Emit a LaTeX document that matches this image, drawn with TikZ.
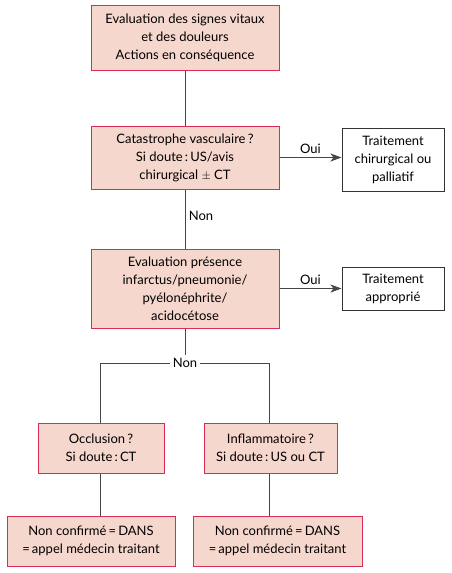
\documentclass[tikz,border=0pt]{standalone}
\usepackage{fontspec}
\setmainfont{Lato}
\usepackage{tikz}
\usetikzlibrary{arrows.meta}
\usetikzlibrary{calc}

\definecolor{boxfill}{RGB}{246,215,205}
\definecolor{boxline}{RGB}{218,45,85}
\definecolor{wire}{RGB}{70,70,70}

\tikzset{
  pinkbox/.style={draw=boxline,line width=1pt,fill=boxfill,align=center,inner sep=0pt},
  whitebox/.style={draw=black!80,line width=1pt,fill=white,align=center,inner sep=0pt},
  wire/.style={draw=wire,line width=1pt},
  arr/.style={wire,-{Stealth[length=11pt,width=8pt,inset=3pt]}}
}

\begin{document}
\begin{tikzpicture}[x=1pt,y=-1pt,font=\fontsize{13}{18}\selectfont]
\useasboundingbox (0,0) rectangle (451,573);
\draw (185,37.5) node (eval) [pinkbox,minimum width=188,minimum height=65] {Evaluation des signes vitaux\\et des douleurs\\Actions en conséquence};
\draw (185,157.5) node (cata) [pinkbox,minimum width=188,minimum height=63] {Catastrophe vasculaire\,?\\Si doute\,:\,US/avis\\chirurgical $\pm$ CT};
\draw (393,159.5) node (chir) [whitebox,minimum width=102,minimum height=63] {Traitement\\chirurgical ou\\palliatif};
\draw (185,288.5) node (infa) [pinkbox,minimum width=188,minimum height=79] {Evaluation présence\\infarctus/pneumonie/\\pyélonéphrite/\\acidocétose};
\draw (393,288.5) node (appr) [whitebox,minimum width=102,minimum height=43] {Traitement\\approprié};
\draw (185,363) node (non) [fill=white,inner sep=3pt] {Non};
\draw (101,448) node (occl) [pinkbox,minimum width=126,minimum height=50] {Occlusion\,?\\Si doute\,:\,CT};
\draw (270.5,448) node (infl) [pinkbox,minimum width=133,minimum height=50] {Inflammatoire\,?\\Si doute\,:\,US ou CT};
\draw (91,541) node (dans1) [pinkbox,minimum width=168,minimum height=50] {Non confirmé\,=\,DANS\\=\,appel médecin traitant};
\draw (277.5,541) node (dans2) [pinkbox,minimum width=169,minimum height=50] {Non confirmé\,=\,DANS\\=\,appel médecin traitant};
% liaisons
\draw [wire] (eval) -- (cata);
\draw [arr] (cata) -- node [above,text=black] {Oui} (cata -| chir.west);
\draw [wire] (cata) -- node [right,text=black,pos=0.45] {Non} (infa);
\draw [arr] (infa) -- node [above,text=black] {Oui} (appr);
\draw [wire] (infa) -- (non);
\draw [wire] (non.west) -| ($(occl.north)+(-1,0)$);
\draw [wire] (non.east) -| ($(infl.north)+(-1.5,0)$);
\draw [wire] ($(occl.south)+(-1,0)$) -- ($(occl.south |- dans1.north)+(-1,0)$);
\draw [wire] ($(infl.south)+(-1.5,0)$) -- ($(infl.south |- dans2.north)+(-1.5,0)$);
\end{tikzpicture}
\end{document}
